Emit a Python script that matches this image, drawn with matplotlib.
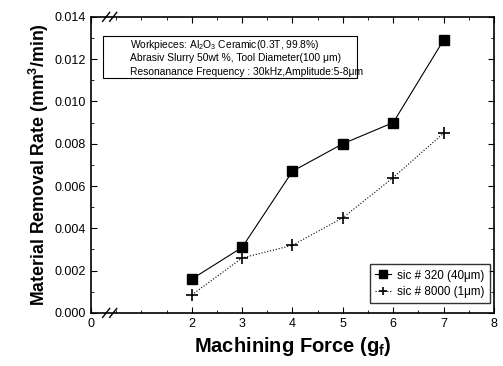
import matplotlib
matplotlib.use("Agg")
import matplotlib.pyplot as plt
from matplotlib.ticker import MultipleLocator, FormatStrFormatter
from matplotlib.patches import Rectangle

plt.rcParams['font.family'] = ['Liberation Sans', 'DejaVu Sans']
plt.rcParams['mathtext.default'] = 'regular'

# data
force = [2, 3, 4, 5, 6, 7]
mrr_320 = [0.0016, 0.0031, 0.0067, 0.0080, 0.0090, 0.0129]
mrr_8000 = [0.00085, 0.0026, 0.0032, 0.0045, 0.0064, 0.0085]
label_320 = 'sic # 320 (40μm)'
label_8000 = 'sic # 8000 (1μm)'
info_lines = ['Workpieces: Al$_2$O$_3$ Ceramic(0.3T, 99.8%)',
              'Abrasiv Slurry 50wt %, Tool Diameter(100 μm)',
              'Resonanance Frequency : 30kHz,Amplitude:5-8μm']

fig = plt.figure(figsize=(5.03, 3.66), dpi=100)
ax = fig.add_axes([0.181, 0.145, 0.801, 0.809])

ax.plot(force, mrr_320, '-', color='black', lw=0.8, marker='s', ms=7,
        label=label_320)
ax.plot(force, mrr_8000, ':', color='black', lw=0.8, marker='+', ms=8,
        mew=1.2, label=label_8000)

ax.set_xlim(0, 8)
ax.set_ylim(0, 0.014)
ax.xaxis.set_minor_locator(MultipleLocator(0.5))
ax.yaxis.set_major_locator(MultipleLocator(0.002))
ax.yaxis.set_minor_locator(MultipleLocator(0.001))
ax.set_xticks([0, 2, 3, 4, 5, 6, 7, 8])
ax.tick_params(which='both', direction='in', top=True, right=True,
               labelsize=9)
ax.tick_params(which='major', length=4)
ax.tick_params(which='minor', length=2)
ax.yaxis.set_major_formatter(FormatStrFormatter('%.3f'))
for s in ax.spines.values():
    s.set_linewidth(1.2)

# axis break marks
for yb in (0, 1):
    for xc in (0.30, 0.44):
        ax.plot([xc - 0.07, xc + 0.07], [yb - 0.015, yb + 0.015],
                color='black', lw=1, transform=ax.get_xaxis_transform(),
                clip_on=False)

ax.set_xlabel('Machining Force (g$_f$)', fontsize=14.5, fontweight='bold')
ax.set_ylabel('Material Removal Rate (mm$^3$/min)', fontsize=12.8,
              fontweight='bold', labelpad=3)

# info box
ax.add_patch(Rectangle((0.030, 0.794), 0.63, 0.142, transform=ax.transAxes,
                       fc='white', ec='black', lw=0.8, zorder=3))
for yt, line in zip([0.905, 0.861, 0.814], info_lines):
    ax.text(0.097, yt, line, transform=ax.transAxes, fontsize=7.4,
            va='center', ha='left', zorder=4)

ax.legend(loc='lower right', frameon=True, fancybox=False, edgecolor='black',
          fontsize=8.4, handlelength=1.4, handletextpad=0.5, borderpad=0.45,
          labelspacing=0.35, borderaxespad=0, markerscale=0.75,
          bbox_to_anchor=(0.99, 0.034))

fig.savefig('out.png', dpi=100)
